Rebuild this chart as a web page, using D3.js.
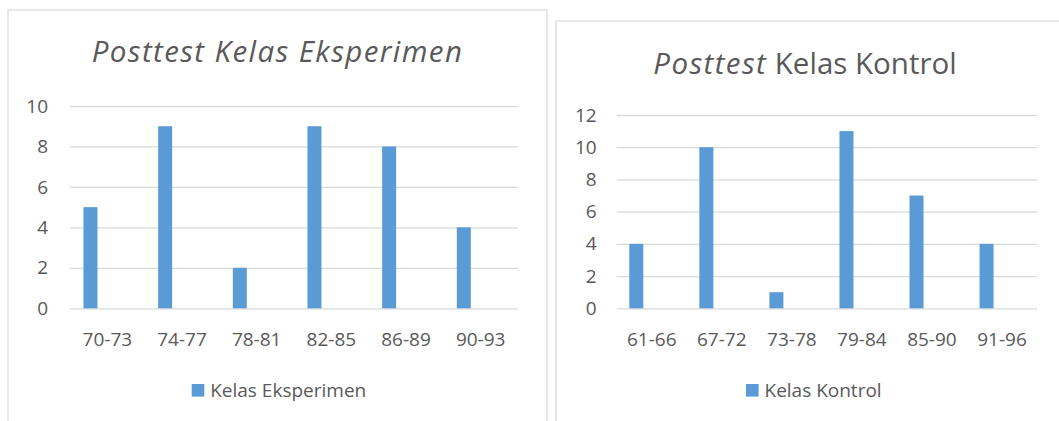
<!DOCTYPE html>
<html>
<head>
<meta charset="utf-8">
<script src="https://cdn.jsdelivr.net/npm/d3@7/dist/d3.min.js"></script>
<style>
  html, body { margin: 0; padding: 0; background: #ffffff; }
  svg { display: block; }
  text { font-family: "Open Sans", "Noto Sans", sans-serif; fill: #595959; }
</style>
</head>
<body>
<svg id="chart" width="1059" height="421"></svg>
<script>
// Posttest score frequency, experiment class
const eksperimenCategories = ["70-73", "74-77", "78-81", "82-85", "86-89", "90-93"];
const eksperimenValues = [5, 9, 2, 9, 8, 4];
const eksperimenTicks = [0, 2, 4, 6, 8, 10];
const eksperimenSeries = "Kelas Eksperimen";

// Posttest score frequency, control class
const kontrolCategories = ["61-66", "67-72", "73-78", "79-84", "85-90", "91-96"];
const kontrolValues = [4, 10, 1, 11, 7, 4];
const kontrolTicks = [0, 2, 4, 6, 8, 10, 12];
const kontrolSeries = "Kelas Kontrol";

const barColor = "#5b9bd5";
const gridColor = "#d9d9d9";
const svg = d3.select("#chart");

function drawPanel(cfg) {
  const g = svg.append("g");

  // chart frame
  g.append("rect")
    .attr("x", cfg.box.x).attr("y", cfg.box.y)
    .attr("width", cfg.box.w).attr("height", cfg.box.h)
    .attr("fill", "#ffffff").attr("stroke", gridColor).attr("stroke-width", 1.2);

  const x = d3.scaleBand().domain(cfg.categories).range([cfg.plot.left, cfg.plot.right]);
  // bars sit in the left part of each category slot
  const xBar = d3.scaleBand().domain(cfg.categories).range([cfg.plot.left, cfg.plot.right])
    .paddingInner(cfg.barPad).paddingOuter(cfg.barPad / 2).align(cfg.barAlign);
  const y = d3.scaleLinear().domain([0, d3.max(cfg.ticks)]).range([cfg.plot.bottom, cfg.plot.top]);

  // value axis with gridlines
  const yAxis = d3.axisLeft(y).tickValues(cfg.ticks)
    .tickSize(-(cfg.plot.right - cfg.plot.left)).tickPadding(cfg.yPad);
  const ya = g.append("g").attr("transform", `translate(${cfg.plot.left},0)`).call(yAxis);
  ya.select(".domain").remove();
  ya.selectAll(".tick line").attr("stroke", gridColor).attr("stroke-width", 1.3);
  ya.selectAll(".tick text").attr("fill", "#595959").style("font-size", "19px")
    .style("font-family", "'Open Sans', sans-serif");

  // category axis
  const xAxis = d3.axisBottom(x).tickSize(0).tickPadding(24);
  const xa = g.append("g").attr("transform", `translate(0,${cfg.plot.bottom})`).call(xAxis);
  xa.select(".domain").remove();
  xa.selectAll(".tick text").attr("fill", "#595959").style("font-size", "19px")
    .style("font-family", "'Open Sans', sans-serif");

  // bars
  g.append("g").selectAll("rect")
    .data(cfg.values)
    .join("rect")
    .attr("x", (d, i) => xBar(cfg.categories[i]))
    .attr("width", xBar.bandwidth())
    .attr("y", d => y(d))
    .attr("height", d => y(0) - y(d))
    .attr("fill", barColor);

  // title
  const t = g.append("text")
    .attr("x", cfg.titleX).attr("y", cfg.titleY)
    .attr("text-anchor", "middle")
    .style("font-size", "29.5px");
  cfg.title.forEach(part => {
    t.append("tspan").text(part.text)
      .style("font-style", part.italic ? "italic" : "normal")
      .style("letter-spacing", part.italic ? "1.4px" : "0px");
  });

  // legend
  const lg = g.append("g").attr("transform", `translate(${cfg.legendX},${cfg.legendY})`);
  lg.append("rect").attr("x", 0).attr("y", -6.5).attr("width", 12.6).attr("height", 12.6).attr("fill", barColor);
  lg.append("text").attr("x", 18.5).attr("y", 0).attr("dy", "0.35em")
    .style("font-size", "19px").text(cfg.series);
}

drawPanel({
  box: { x: 8, y: 10, w: 539, h: 440 },
  plot: { left: 70, right: 518, top: 106, bottom: 308.3 },
  categories: eksperimenCategories,
  values: eksperimenValues,
  ticks: eksperimenTicks,
  series: eksperimenSeries,
  barPad: 0.8125, barAlign: 0.222,
  yPad: 22,
  title: [{ text: "Posttest Kelas Eksperimen", italic: true }],
  titleX: 277.5, titleY: 62,
  legendX: 191.7, legendY: 390.5
});

drawPanel({
  box: { x: 556, y: 21, w: 540, h: 440 },
  plot: { left: 616.7, right: 1037, top: 115, bottom: 308.3 },
  categories: kontrolCategories,
  values: kontrolValues,
  ticks: kontrolTicks,
  series: kontrolSeries,
  barPad: 0.8, barAlign: 0.225,
  yPad: 20,
  title: [{ text: "Posttest", italic: true }, { text: " Kelas Kontrol", italic: false }],
  titleX: 805, titleY: 74,
  legendX: 746, legendY: 390.5
});
</script>
</body>
</html>
